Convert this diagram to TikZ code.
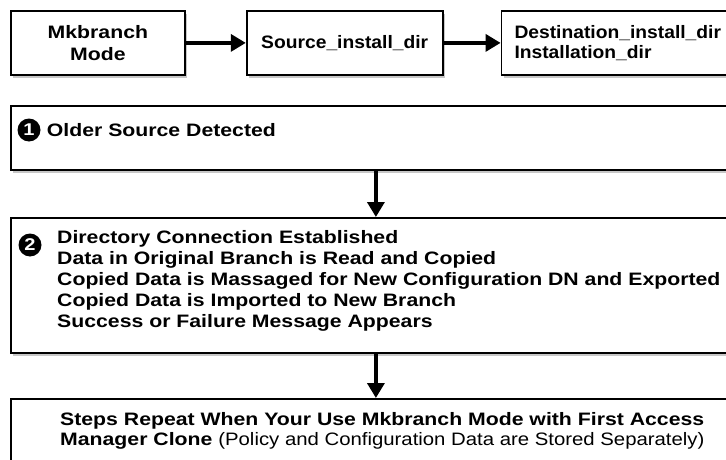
\documentclass[tikz,border=0pt]{standalone}
\usepackage{fontspec}
\setmainfont{Liberation Sans}[FakeStretch=1.18]
\newfontfamily\dirfont{Liberation Sans}[FakeStretch=1.07]
\newfontfamily\notefont{Liberation Sans}[FakeStretch=1.13]
\usetikzlibrary{arrows.meta,positioning,shadows}

\begin{document}
\begin{tikzpicture}[x=1pt,y=-1pt,node distance=60pt,
  box/.style={draw,line width=1.8pt,fill=white,inner sep=0pt,minimum height=64pt,
    drop shadow={shadow xshift=2pt,shadow yshift=-3pt,fill=black!22,opacity=1}},
  txt/.style={font=\bfseries\fontsize{18}{21}\selectfont,inner sep=0pt},
  badge/.style={circle,fill=black,text=white,inner sep=0pt,minimum size=23pt,
    font=\bfseries\fontsize{17}{17}\selectfont},
  lnk/.style={-{Triangle[length=15pt,width=17pt]},line width=3.5pt}]
  \useasboundingbox (0,0) rectangle (726,460);
  \clip (0,0) rectangle (726,460);
  % top row
  \node[box,align=center,minimum width=174pt,anchor=north west,
    font=\bfseries\fontsize{18}{21.5}\selectfont] (mode) at (10,10) {Mkbranch\\Mode};
  \node[box,minimum width=196pt,right=60pt of mode,
    font=\dirfont\bfseries\fontsize{18}{20}\selectfont] (src) {Source\_install\_dir};
  \node[box,align=left,text width=240pt,inner xsep=13pt,right=57pt of src,
    font=\dirfont\bfseries\fontsize{18}{20}\selectfont] (dst)
    {Destination\_install\_dir\\Installation\_dir};
  \draw[lnk] (mode) -- (src);
  \draw[lnk] (src) -- (dst);
  % step 1
  \node[box,minimum width=740pt,anchor=north west] (older) at (10,105) {};
  \node[badge] (b1) at (29,130) {1};
  \node[txt,anchor=west,right=6pt of b1] (t1) {Older Source Detected};
  % step 2
  \node[box,minimum width=740pt,minimum height=135pt,anchor=north west] (steps) at (10,217) {};
  \node[badge] (b2) at (30,245) {2};
  \node[txt,align=left,anchor=north west] (t2) at (57,230)
    {Directory Connection Established\\
     Data in Original Branch is Read and Copied\\
     Copied Data is Massaged for New Configuration DN and Exported\\
     Copied Data is Imported to New Branch\\
     Success or Failure Message Appears};
  % repeat
  \node[box,minimum width=740pt,minimum height=80pt,anchor=north west] (again) at (10,398) {};
  \node[txt,align=left,anchor=north west,font=\bfseries\fontsize{18}{20}\selectfont] (t3) at (60,412)
    {Steps Repeat When Your Use Mkbranch Mode with First Access\\
     Manager Clone {\notefont\mdseries(Policy and Configuration Data are Stored Separately)}};
  \draw[lnk] ([xshift=-5pt]older.south) -- ([xshift=-5pt]steps.north);
  \draw[lnk] ([xshift=-5pt]steps.south) -- ([xshift=-5pt]again.north);
\end{tikzpicture}
\end{document}
